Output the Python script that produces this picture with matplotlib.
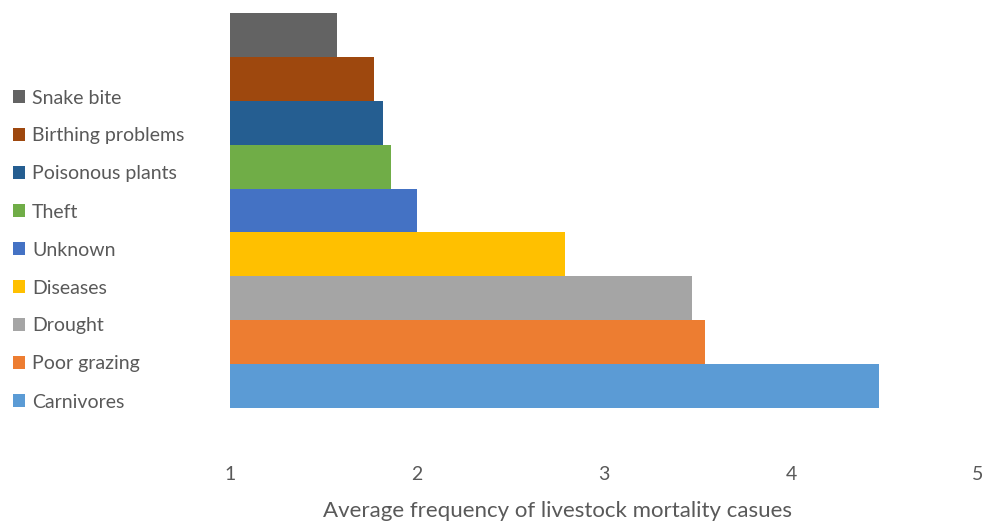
import matplotlib.pyplot as plt

plt.rcParams['font.family'] = ['Lato', 'DejaVu Sans']

# causes listed from bottom bar to top bar
causes = ['Carnivores', 'Poor grazing', 'Drought', 'Diseases', 'Unknown',
          'Theft', 'Poisonous plants', 'Birthing problems', 'Snake bite']
freq = [4.47, 3.54, 3.47, 2.79, 2.00, 1.86, 1.82, 1.77, 1.57]
colors = ['#5B9BD5', '#ED7D31', '#A5A5A5', '#FFC000', '#4472C4',
          '#70AD47', '#255E91', '#9E480E', '#636363']
xticks = [1, 2, 3, 4, 5]

W, H = 985, 525
fig = plt.figure(figsize=(W / 100, H / 100), dpi=100)
ax = fig.add_axes([230 / W, 1 - 408 / H, (978 - 230) / W, (408 - 13) / H])

# every bar starts at the axis origin of 1
for i, (c, v, col) in enumerate(zip(causes, freq, colors)):
    ax.barh(i, v - 1, left=1, height=1.0, color=col, label=c)

ax.set_xlim(1, 5)
ax.set_ylim(-0.5, len(causes) - 0.5)
ax.set_xticks(xticks)
ax.set_xticklabels([str(t) for t in xticks], fontsize=14, color='#595959')
ax.tick_params(axis='x', length=0, pad=42)
ax.set_yticks([])
for s in ax.spines.values():
    s.set_visible(False)

fig.text((325 + 790) / 2 / W, 1 - 511 / H,
         'Average frequency of livestock mortality casues',
         ha='center', va='center', fontsize=16, color='#595959')

handles, labels = ax.get_legend_handles_labels()
leg = fig.legend(handles[::-1], labels[::-1], loc='upper left',
                 bbox_to_anchor=(-5 / W, 1 - 72 / H), frameon=False,
                 fontsize=14, labelcolor='#595959', handlelength=0.65,
                 handleheight=0.6, handletextpad=0.35, labelspacing=1.08)

fig.savefig('out.png', dpi=100)
